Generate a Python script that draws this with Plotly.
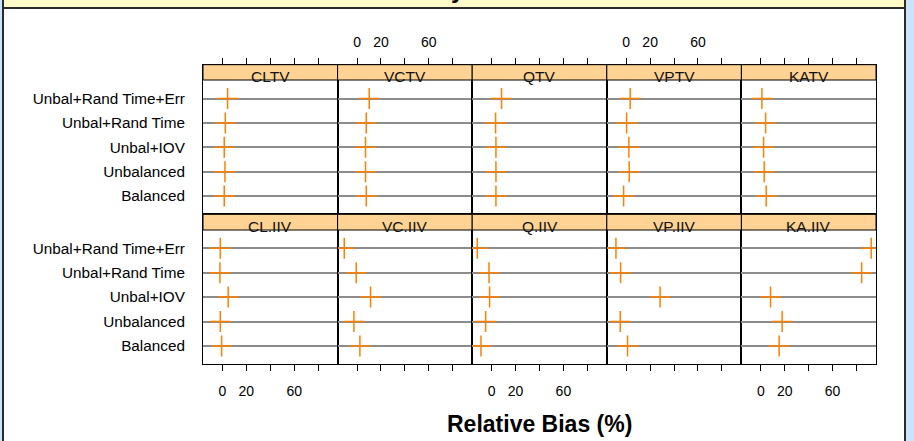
import plotly.graph_objects as go

# ---------------- data ----------------
designs = ["Balanced", "Unbalanced", "Unbal+IOV", "Unbal+Rand Time", "Unbal+Rand Time+Err"]
panels_top = ["CLTV", "VCTV", "QTV", "VPTV", "KATV"]
panels_bottom = ["CL.IIV", "VC.IIV", "Q.IIV", "VP.IIV", "KA.IIV"]

CLTV = [1.5, 2.1, 1.5, 2.4, 4.3]
VCTV = [7.7, 7.1, 7.1, 7.7, 10.2]
QTV = [3.6, 3.6, 3.6, 3.3, 8.3]
VPTV = [-2.2, 2.5, 2.2, 0.3, 3.3]
KATV = [4.5, 2.8, 2.3, 4.0, 0.9]
CL_IIV = [-0.7, -1.8, 4.8, -2.1, -1.8]
VC_IIV = [2.4, -2.6, 11.3, -0.7, -10.7]
Q_IIV = [-8.9, -5.0, -1.7, -2.2, -12.0]
VP_IIV = [1.1, -5.0, 28.3, -4.7, -8.6]
KA_IIV = [15.3, 17.8, 8.1, 84.3, 92.3]

tick_vals = [0, 20, 40, 60, 80]
tick_text = ["0", "20", "", "60", ""]

panel_names = panels_top + panels_bottom
panel_values = [CLTV, VCTV, QTV, VPTV, KATV, CL_IIV, VC_IIV, Q_IIV, VP_IIV, KA_IIV]

# ---------------- geometry ----------------
W, H = 914, 441
def fx(x):
    return x / W
def fy(y):
    return 1 - y / H

FONT = "Liberation Sans, Arial, sans-serif"
left0, pw = 203.0, 134.6
row_geom = [  # (strip top, body top, body bottom)
    (64.7, 80.0, 214.3),
    (214.3, 230.0, 364.3),
]
xrange_ = [-16.25, 96.3]
yrange_ = [0.25, 6.39]

fig = go.Figure()
layout = dict(
    width=W, height=H,
    margin=dict(l=0, r=0, t=0, b=0),
    paper_bgcolor="#cbe4fb",
    plot_bgcolor="rgba(0,0,0,0)",
    showlegend=False,
    font=dict(family=FONT, color="black"),
)

shapes = [
    # white content box
    dict(type="rect", xref="paper", yref="paper", x0=fx(3), x1=fx(905), y0=fy(460), y1=fy(8),
         fillcolor="white", line=dict(color="#2b2b2b", width=2), layer="below"),
    # yellow title band
    dict(type="rect", xref="paper", yref="paper", x0=fx(3), x1=fx(905), y0=fy(8), y1=fy(-20),
         fillcolor="#fffbc8", line=dict(color="#2b2b2b", width=2), layer="below"),
]
annotations = []

for i, (name, vals) in enumerate(zip(panel_names, panel_values)):
    r, c = divmod(i, 5)
    n = i + 1
    st, bt, bb = row_geom[r]
    xd = [fx(left0 + c * pw), fx(left0 + (c + 1) * pw)]
    yd = [fy(bb), fy(st)]
    xa = "xaxis" if n == 1 else f"xaxis{n}"
    ya = "yaxis" if n == 1 else f"yaxis{n}"
    if r == 0:
        show_lbl = c in (1, 3)
        side = "top"
        standoff = 5
    else:
        show_lbl = c in (0, 2, 4)
        side = "bottom"
        standoff = 8
    layout[xa] = dict(
        domain=xd, anchor=f"y{n}", range=xrange_, side=side,
        tickmode="array", tickvals=tick_vals, ticktext=tick_text,
        showticklabels=show_lbl, ticks="outside", ticklen=6, tickcolor="black",
        tickfont=dict(size=14, family=FONT, color="black"),
        ticklabelstandoff=standoff,
        showline=True, mirror=True, linecolor="black", linewidth=1,
        showgrid=False, zeroline=False, fixedrange=True,
    )
    ydict = dict(
        domain=yd, anchor=f"x{n}", range=yrange_,
        tickmode="array", tickvals=[1, 2, 3, 4, 5], ticktext=designs,
        showgrid=True, gridcolor="#8c8c8c", gridwidth=2,
        showline=True, mirror=True, linecolor="black", linewidth=1,
        zeroline=False, fixedrange=True,
    )
    if c == 0:
        ydict.update(showticklabels=True, ticks="outside", ticklen=14,
                     tickcolor="rgba(0,0,0,0)",
                     tickfont=dict(size=15.3, family=FONT, color="black"))
    else:
        ydict.update(showticklabels=False, ticks="")
    layout[ya] = ydict

    fig.add_trace(go.Scatter(
        x=vals, y=[1, 2, 3, 4, 5], mode="markers",
        xaxis=f"x{n}", yaxis=f"y{n}",
        marker=dict(symbol="cross-thin", size=15,
                    line=dict(width=1.5, color="#ff8000")),
        hoverinfo="x+y",
    ))

    # strip
    shapes.append(dict(type="rect", xref="paper", yref="paper",
                       x0=xd[0], x1=xd[1], y0=fy(bt), y1=fy(st),
                       fillcolor="#ffd393", line=dict(color="black", width=1),
                       layer="above"))
    annotations.append(dict(text=name, xref="paper", yref="paper",
                            x=(xd[0] + xd[1]) / 2, y=fy(bt - 3.5), yanchor="middle",
                            xanchor="center", showarrow=False,
                            font=dict(size=15.5, family=FONT, color="#111111")))

annotations.append(dict(text="<b>Relative Bias (%)</b>", xref="paper", yref="paper",
                        x=fx(539.5), y=fy(424), xanchor="center", yanchor="middle",
                        showarrow=False, font=dict(size=23, family=FONT, color="black")))
annotations.append(dict(text="<b>Bias by Model</b>", xref="paper", yref="paper",
                        x=fx(460), y=fy(5), xanchor="center", yanchor="bottom",
                        showarrow=False, font=dict(size=24, family=FONT, color="black")))

layout["shapes"] = shapes
layout["annotations"] = annotations
fig.update_layout(**layout)
fig.write_html("out.html",
               config={"displayModeBar": False},
               post_script="document.body.style.margin='0';document.body.style.background='#cbe4fb';")
